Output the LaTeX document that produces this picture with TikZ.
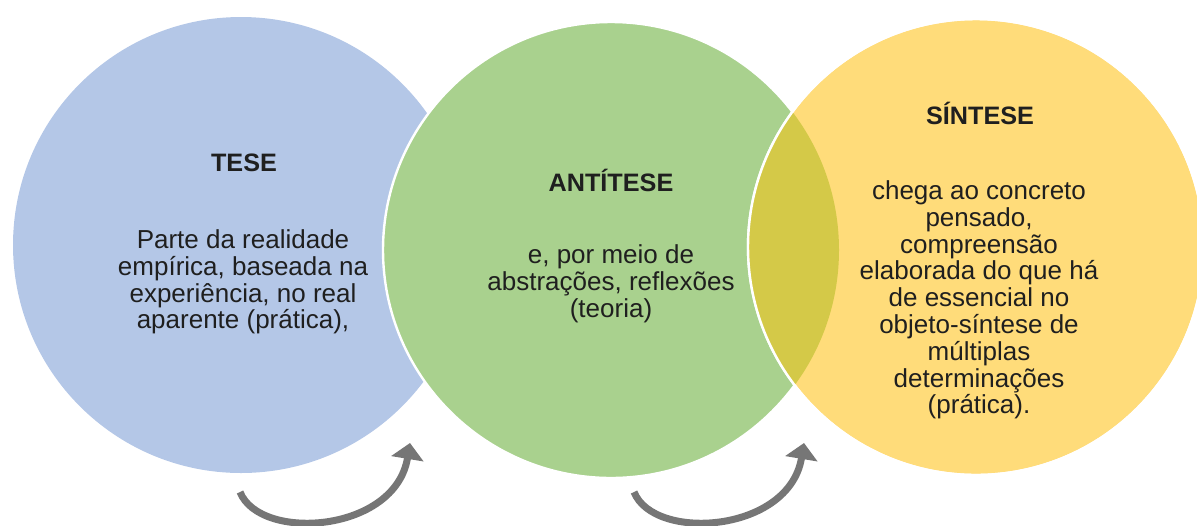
\documentclass[tikz,border=0pt]{standalone}
\usepackage{fontspec}
\setmainfont{Liberation Sans}
\usetikzlibrary{positioning, calc, arrows.meta}

\begin{document}
\begin{tikzpicture}[x=0.5pt, y=-0.5pt]
        % Colours
        \definecolor{myblue}{RGB}{180, 199, 231}
        \definecolor{mygreen}{RGB}{169, 209, 142}
        \definecolor{myyellow}{RGB}{255, 220, 122}
        \definecolor{myolive}{RGB}{212, 201, 72}
        \definecolor{mygray}{RGB}{118, 118, 118}

        \tikzset{
            bigcircle/.style={circle, minimum size=228pt, inner sep=0pt},
            txt/.style={font=\fontsize{13}{13.4}\selectfont, text=black!88, align=center},
            ttl/.style={txt, font=\fontsize{12.6}{13.4}\selectfont\bfseries},
            flow/.style={-{Triangle[width=16pt, length=8pt]}, line width=3.5pt, draw=mygray}
        }

        \useasboundingbox (0,0) rectangle (1197,525);

        % 1. The three circles
        \node[bigcircle, fill=myblue] (c_tese) at (241,245) {};
        \node[bigcircle, fill=mygreen, draw=white, line width=1.2pt] (c_anti) at (611,250) {};
        \node[bigcircle, fill=myyellow, draw=white, line width=1.2pt] (c_sint) at (976,247) {};

        % overlap green / yellow
        \begin{scope}
            \clip (c_sint.center) circle (114pt);
            \fill[myolive] (c_anti.center) circle (114pt);
        \end{scope}
        \draw[white, line width=1.2pt] (c_sint.center) circle (114pt);

        % 2. Texts
        \node[ttl] (t_tese) at (244,163) {TESE};
        \node[txt] (b_tese) at (243,282) {Parte da realidade\\empírica, baseada na\\experiência, no real\\aparente (prática),};

        \node[ttl] (t_anti) at (611,180) {ANTÍTESE};
        \node[txt] (b_anti) at (611,284) {e, por meio de\\abstrações, reflexões\\(teoria)};

        \node[ttl] (t_sint) at (980,113) {SÍNTESE};
        \node[txt] (b_sint) at (979,300) {chega ao concreto\\pensado,\\compreensão\\elaborada do que há\\de essencial no\\objeto-síntese de\\múltiplas\\determinações\\(prática).};

        % 3. Curved arrows below
        \foreach \i/\dx in {1/0, 2/394} {
            \coordinate (a\i_tail) at (240+\dx,492);
            \coordinate (a\i_tip) at (410+\dx,443);
            \draw[flow] (a\i_tail) .. controls +(20,50) and +(-15,90) .. (a\i_tip);
        }

\end{tikzpicture}
\end{document}
